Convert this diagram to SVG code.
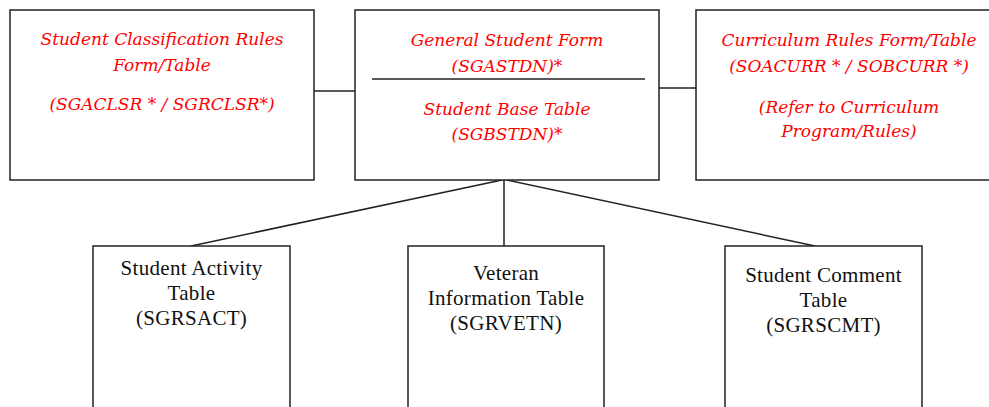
<svg xmlns="http://www.w3.org/2000/svg" width="989" height="407" viewBox="0 0 989 407">
  <style>
    .box { fill: #ffffff; stroke: #222222; stroke-width: 1.5; }
    .link { fill: none; stroke: #222222; stroke-width: 1.5; }
    .red { font-family: "DejaVu Serif", "Liberation Serif", serif; font-style: italic; font-size: 17px; fill: #ff0000; text-anchor: middle; }
    .blk { font-family: "Liberation Serif", "Times New Roman", serif; font-size: 21px; letter-spacing: 0.3px; fill: #111111; text-anchor: middle; }
  </style>
  <rect x="0" y="0" width="989" height="407" fill="#ffffff"/>

  <g id="connectors">
    <line class="link" x1="314" y1="91" x2="355" y2="91"/>
    <line class="link" x1="659" y1="88" x2="696" y2="88"/>
    <line class="link" x1="502" y1="180" x2="191" y2="246"/>
    <line class="link" x1="504" y1="180" x2="504" y2="246"/>
    <line class="link" x1="507" y1="180" x2="815" y2="246"/>
  </g>

  <g id="classification-rules">
    <rect class="box" x="10" y="10" width="304" height="170"/>
    <text class="red" x="162" y="45">Student Classification Rules</text>
    <text class="red" x="162" y="71">Form/Table</text>
    <text class="red" x="162" y="110">(SGACLSR * / SGRCLSR*)</text>
  </g>

  <g id="general-student">
    <rect class="box" x="355" y="10" width="304" height="170"/>
    <text class="red" x="507" y="46">General Student Form</text>
    <text class="red" x="507" y="72">(SGASTDN)*</text>
    <line class="link" x1="372" y1="79" x2="645" y2="79"/>
    <text class="red" x="507" y="115">Student Base Table</text>
    <text class="red" x="507" y="140">(SGBSTDN)*</text>
  </g>

  <g id="curriculum-rules">
    <rect class="box" x="696" y="10" width="306" height="170"/>
    <text class="red" x="849" y="46">Curriculum Rules Form/Table</text>
    <text class="red" x="849" y="72">(SOACURR * / SOBCURR *)</text>
    <text class="red" x="849" y="113">(Refer to Curriculum</text>
    <text class="red" x="849" y="137">Program/Rules)</text>
  </g>

  <g id="student-activity">
    <rect class="box" x="93" y="246" width="197" height="180"/>
    <text class="blk" x="191.5" y="275">Student Activity</text>
    <text class="blk" x="191.5" y="300">Table</text>
    <text class="blk" x="191.5" y="325">(SGRSACT)</text>
  </g>

  <g id="veteran-information">
    <rect class="box" x="408" y="246" width="196" height="180"/>
    <text class="blk" x="506" y="280">Veteran</text>
    <text class="blk" x="506" y="305">Information Table</text>
    <text class="blk" x="506" y="330">(SGRVETN)</text>
  </g>

  <g id="student-comment">
    <rect class="box" x="725" y="246" width="197" height="180"/>
    <text class="blk" x="823.5" y="282">Student Comment</text>
    <text class="blk" x="823.5" y="307">Table</text>
    <text class="blk" x="823.5" y="332">(SGRSCMT)</text>
  </g>
</svg>
